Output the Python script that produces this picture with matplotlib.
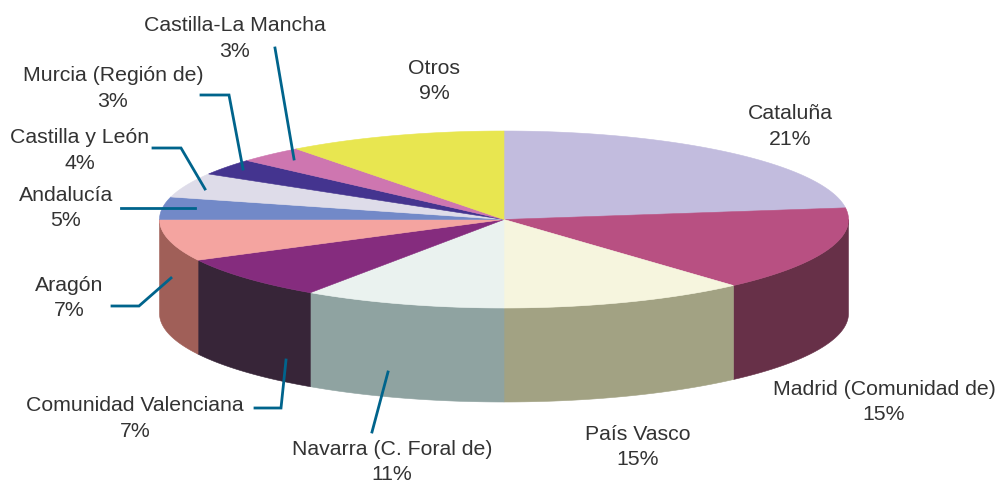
import numpy as np
import matplotlib
matplotlib.use('Agg')
import matplotlib.pyplot as plt

plt.rcParams['font.family'] = ['Liberation Sans', 'DejaVu Sans']

# Data: labelled percent, and the share of the ellipse each slice takes up in the drawing
regions = ['Cataluña', 'Madrid (Comunidad de)', 'País Vasco', 'Navarra (C. Foral de)',
           'Comunidad Valenciana', 'Aragón', 'Andalucía', 'Castilla y León',
           'Murcia (Región de)', 'Castilla-La Mancha', 'Otros']
pct_labels = ['21%', '15%', '15%', '11%', '7%', '7%', '5%', '4%', '3%', '3%', '9%']
drawn_share = [22.9, 15.5, 11.6, 9.5, 7.9, 7.6, 4.1, 4.5, 3.0, 3.1, 10.3]

top_colors = ['#C2BCDE', '#B85082', '#F6F5DE', '#EAF2EF', '#852C7E', '#F4A4A0',
              '#7289C8', '#DEDCE9', '#44348F', '#CE76B0', '#E8E650']
side_colors = ['#7F7B92', '#673048', '#A2A283', '#8FA3A1', '#372538', '#A05F58',
               '#4B5A84', '#929099', '#2D225E', '#874D74', '#989734']

# Label centres in pixels
label_x = [790, 884, 638, 392, 135, 69, 66, 80, 113, 235, 434]
label_y = [126.5, 402, 447, 462, 418.5, 298, 208, 150.5, 88.5, 38.5, 81]

# Leader lines in pixels
leaders = [
    [(388, 372), (372, 432)],
    [(286, 360), (281, 408), (255, 408)],
    [(171, 278), (139, 306), (112, 306)],
    [(195, 208), (121, 208)],
    [(205, 189), (181, 148), (153, 148)],
    [(243, 169), (229, 95), (201, 95)],
    [(294, 159), (275, 48)],
]

cx, cy, rx, ry, depth = 504, 219.5, 344.5, 88.5, 94


def ellipse_pts(a0, a1, dy=0):
    # angles in degrees clockwise from the top
    t = np.radians(np.linspace(a0, a1, max(int(abs(a1 - a0) * 3), 2)))
    return cx + rx * np.sin(t), cy - ry * np.cos(t) + dy


fig = plt.figure(figsize=(9.98, 4.83), dpi=100)
ax = fig.add_axes([0, 0, 1, 1])
ax.set_xlim(0, 998)
ax.set_ylim(483, 0)
ax.axis('off')

edges = np.cumsum([0] + drawn_share) / sum(drawn_share) * 360

# side wall, only the front half of the ellipse shows
for i in range(len(regions)):
    a0 = max(edges[i], 90)
    a1 = min(edges[i + 1], 270)
    if a1 <= a0:
        continue
    x0, y0 = ellipse_pts(a0, a1)
    x1, y1 = ellipse_pts(a1, a0, depth)
    ax.fill(np.r_[x0, x1], np.r_[y0, y1], color=side_colors[i], lw=0.4, zorder=1)

# top face
for i in range(len(regions)):
    x, y = ellipse_pts(edges[i], edges[i + 1])
    ax.fill(np.r_[cx, x], np.r_[cy, y], color=top_colors[i], lw=0.4, zorder=2)

for pts in leaders:
    xs, ys = zip(*pts)
    ax.plot(xs, ys, color='#00648C', lw=2.0, solid_joinstyle='miter', zorder=3)

for name, pct, x, y in zip(regions, pct_labels, label_x, label_y):
    ax.text(x, y, name + '\n' + pct, ha='center', va='center', fontsize=15.3,
            color='#333333', linespacing=1.41, zorder=4)

fig.savefig('out.png', dpi=100)
